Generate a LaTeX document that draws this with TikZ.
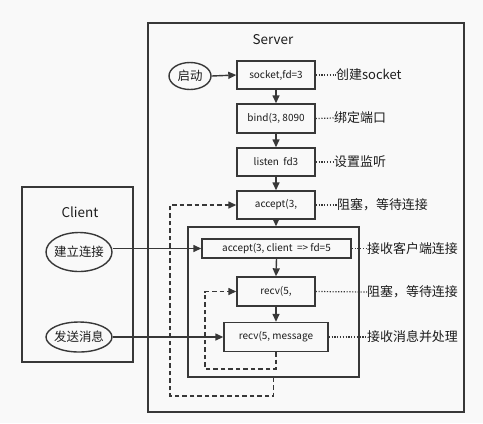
\documentclass[tikz,border=0pt]{standalone}
\usepackage{fontspec}
\setmainfont{Noto Sans CJK SC}
\usetikzlibrary{arrows.meta,shapes.geometric}
\definecolor{bgc}{HTML}{F9F9F9}
\definecolor{ln}{HTML}{383838}
\definecolor{tx}{HTML}{1C1C1C}
\tikzset{
  base/.style={draw=ln, line width=1.4bp, text=tx, inner sep=0pt},
  box/.style={base, rectangle, font=\fontsize{10}{12}\selectfont},
  oval/.style={base, ellipse, inner xsep=-4bp, font=\fontsize{12.5}{15}\selectfont},
  frame/.style={base, rectangle},
  ttl/.style={text=tx, font=\fontsize{13.5}{16}\selectfont},
  lbl/.style={text=tx, anchor=west, inner sep=0pt, font=\fontsize{13}{15}\selectfont},
  arr/.style={draw=ln, line width=1.4bp, -{Triangle[length=8bp,width=7bp]}},
  darr/.style={arr, dash pattern=on 4.5bp off 3bp},
  dots/.style={draw=ln, line width=1.2bp, dash pattern=on 1.2bp off 1.6bp},
}
\begin{document}
\begin{tikzpicture}[x=1bp,y=-1bp]
\fill[bgc] (0,0) rectangle (483,423);
\useasboundingbox (0,0) rectangle (483,423);
% frames
\node[frame, minimum width=316bp, minimum height=389bp] (server) at (306,217.5) {};
\node[frame, minimum width=111bp, minimum height=175bp] (client) at (77.5,274.5) {};
\node[frame, minimum width=171bp, minimum height=150bp] (inner) at (273.5,302) {};
\node[ttl] (stitle) at (273,40) {Server};
\node[ttl] (ctitle) at (80,212) {Client};
% server steps
\node[oval, minimum width=42bp, minimum height=27bp] (start) at (190,76) {启动};
\node[box, minimum width=78bp, minimum height=28bp] (socket) at (276,75) {socket,fd=3};
\node[box, minimum width=78bp, minimum height=29bp] (bind) at (276,118.5) {bind(3, 8090};
\node[box, minimum width=78bp, minimum height=28bp] (listen) at (276,162) {listen\ \ fd3};
\node[box, minimum width=78bp, minimum height=28bp] (acc1) at (276,205) {accept(3,};
\node[box, minimum width=149bp, minimum height=19bp] (acc2) at (276.5,248.5) {accept(3, client\ \ => fd=5};
\node[box, minimum width=78bp, minimum height=29bp] (recv1) at (276,291.5) {recv(5,};
\node[box, minimum width=104bp, minimum height=29bp] (recv2) at (276,337) {recv(5, message};
% client
\node[oval, minimum width=66bp, minimum height=39bp] (conn) at (79,252) {建立连接};
\node[oval, minimum width=66bp, minimum height=30bp] (send) at (79,337) {发送消息};
% labels
\node[lbl] (l1) at (336,75) {创建socket};
\node[lbl] (l2) at (334,118) {绑定端口};
\node[lbl] (l3) at (334,162) {设置监听};
\node[lbl] (l4) at (337,205) {阻塞，等待连接};
\node[lbl] (l5) at (367,248.5) {接收客户端连接};
\node[lbl] (l6) at (367,292) {阻塞，等待连接};
\node[lbl] (l7) at (367,337) {接收消息并处理};
\draw[dots] (socket.east) -- (l1.west);
\draw[dots] (bind.east) -- (l2.west);
\draw[dots] (listen.east) -- (l3.west);
\draw[dots] (acc1.east) -- (l4.west);
\draw[dots] (acc2.east) -- (l5.west);
\draw[dots] (recv1.east) -- (l6.west);
\draw[dots] (recv2.east) -- (l7.west);
% arrows
\draw[arr] (start.east) -- (socket.west);
\draw[arr] (socket.south) -- (bind.north);
\draw[arr] (bind.south) -- (listen.north);
\draw[arr] (listen.south) -- (acc1.north);
\draw[arr] (acc1.south) -- (acc1.south |- inner.north);
\draw[arr] (acc2.south) -- (recv1.north);
\draw[arr] (recv1.south) -- (recv2.north);
\draw[arr] (conn.east |- acc2.west) -- (acc2.west);
\draw[arr] (send.east) -- (recv2.west);
% dashed loops
\coordinate (o1) at (170,396);
\coordinate (i1) at (205,369);
\draw[darr] (inner.south) |- (o1) |- (acc1.west);
\draw[darr] (recv2.south) |- (i1) |- (recv1.west);
\end{tikzpicture}
\end{document}
